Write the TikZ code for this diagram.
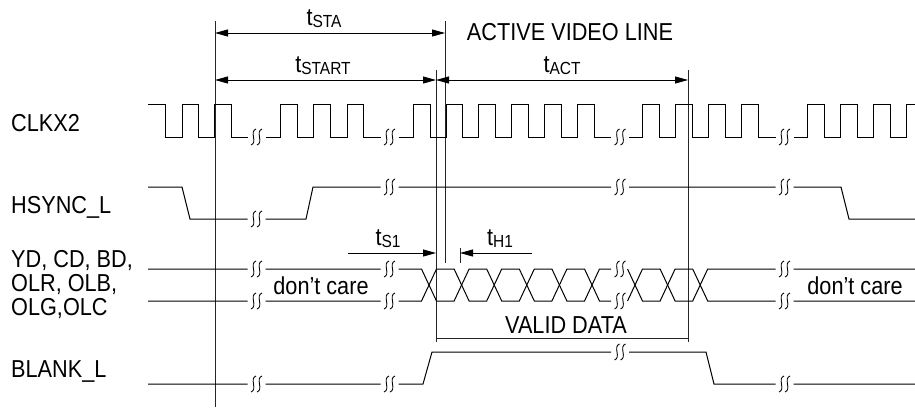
\documentclass[tikz,border=0pt]{standalone}
\usepackage{fontspec}
\setmainfont{Liberation Sans}[FakeStretch=0.885]
\usetikzlibrary{arrows.meta}
\newcommand\tbrk[2]{%
  \draw[brkline] ({#1-0.5},{#2-8}) .. controls ({#1-7.5},{#2-5.5}) and ({#1+1.5},{#2+5.5}) .. ({#1-5.5},{#2+8});
  \draw[brkline] ({#1+5.5},{#2-8}) .. controls ({#1-1.5},{#2-5.5}) and ({#1+7.5},{#2+5.5}) .. ({#1+0.5},{#2+8});
}
\newcommand\subs[1]{\raisebox{-2.5pt}{\fontsize{17.5}{18}\selectfont #1}}
\newcommand\sq{\symbol{"0027}}
\begin{document}
\begin{tikzpicture}[x=1pt,y=-1pt,
  sig/.style={line width=1pt,line join=miter},
  brkline/.style={line width=0.9pt},
  vline/.style={line width=0.7pt,black!85},
  dim/.style={line width=0.8pt,{Triangle[length=13pt,width=7pt]}-{Triangle[length=13pt,width=7pt]}},
  dimr/.style={line width=0.8pt,-{Triangle[length=13pt,width=7pt]}},
  lbl/.style={inner sep=0pt,font=\fontsize{24.5}{25}\selectfont},
]
\useasboundingbox (0,0) rectangle (915,408);

% ---------- coordinates of reference lines
\coordinate (Lt) at (215,21);  \coordinate (Lb) at (215,407);
\coordinate (Mt) at (445,21);  \coordinate (Mb) at (445,263);
\coordinate (Kt) at (436,70);  \coordinate (Kb) at (436,342);
\coordinate (Rt) at (688,70);  \coordinate (Rb) at (688,342);
\coordinate (Ht) at (460,248); \coordinate (Hb) at (460,263);
\coordinate (VDl) at (436,338); \coordinate (VDr) at (688,338);

\draw[vline] (Lt) -- (Lb);
\draw[vline] (Mt) -- (Mb);
\draw[vline] (Kt) -- (Kb);
\draw[vline] (Rt) -- (Rb);
\draw[vline] (Ht) -- (Hb);
\draw[vline] (VDl) -- (VDr);

% ---------- dimension arrows
\coordinate (staL) at (215,33); \coordinate (staR) at (445,33);
\coordinate (stL) at (215,80);  \coordinate (stR) at (436,80);
\coordinate (actR) at (688,80);
\coordinate (s1L) at (348,253); \coordinate (s1R) at (436,253);
\coordinate (h1R) at (532,253); \coordinate (h1L) at (460,253);
\draw[dim] (staL) -- (staR);
\draw[dim] (stL) -- (stR);
\draw[dim] (stR) -- (actR);
\draw[dimr] (s1L) -- (s1R);
\draw[dimr] (h1R) -- (h1L);

% ---------- labels
\node[lbl,anchor=base] (tsta) at (324,25) {t\subs{STA}};
\node[lbl,anchor=base] (tstart) at (323,72) {t\subs{START}};
\node[lbl,anchor=base] (avl) at (570,40) {ACTIVE VIDEO LINE};
\node[lbl,anchor=base] (tact) at (562,72) {t\subs{ACT}};
\node[lbl,anchor=base] (ts1) at (388,245) {t\subs{S1}};
\node[lbl,anchor=base] (th1) at (500,245) {t\subs{H1}};
\node[lbl,anchor=base] (dc1) at (321,294) {don\sq t care};
\node[lbl,anchor=base] (dc2) at (855,294) {don\sq t care};
\node[lbl,anchor=base] (vd) at (566,333) {VALID DATA};

\node[lbl,anchor=base west] (nclk) at (11,131) {CLKX2};
\node[lbl,anchor=base west] (nhs) at (11,213) {HSYNC\_L};
\node[lbl,anchor=base west] (nd1) at (11,267) {YD, CD, BD,};
\node[lbl,anchor=base west] (nd2) at (11,291) {OLR, OLB,};
\node[lbl,anchor=base west] (nd3) at (11,315) {OLG,OLC};
\node[lbl,anchor=base west] (nbl) at (11,377) {BLANK\_L};

% ---------- CLKX2
\draw[sig] (148,104) -- (165,104) -- (165,137) -- (182,137) -- (182,104) -- (198,104) -- (198,137) -- (214,137) -- (214,104) -- (231,104) -- (231,137) -- (247.5,137)
  (265.5,137) -- (280,137) -- (280,104) -- (297,104) -- (297,137) -- (313,137) -- (313,104) -- (330,104) -- (330,137) -- (347,137) -- (347,104) -- (363,104) -- (363,137) -- (380.5,137)
  (398.5,137) -- (413,137) -- (413,104) -- (430,104) -- (430,137) -- (446,137) -- (446,104) -- (462,104) -- (462,137) -- (478,137) -- (478,104) -- (495,104) -- (495,137) -- (511,137) -- (511,104) -- (528,104) -- (528,137) -- (544,137) -- (544,104) -- (561,104) -- (561,137) -- (577,137) -- (577,104) -- (594,104) -- (594,137) -- (611,137)
  (629,137) -- (642,137) -- (642,104) -- (659,104) -- (659,137) -- (675,137) -- (675,104) -- (692,104) -- (692,137) -- (708,137) -- (708,104) -- (725,104) -- (725,137) -- (741,137) -- (741,104) -- (758,104) -- (758,137) -- (775.5,137)
  (793.5,137) -- (807,137) -- (807,104) -- (824,104) -- (824,137) -- (840,137) -- (840,104) -- (857,104) -- (857,137) -- (873,137) -- (873,104) -- (890,104) -- (890,137) -- (906,137) -- (906,104) -- (915,104);
\tbrk{256.5}{137} \tbrk{389.5}{137} \tbrk{620}{137} \tbrk{784.5}{137}

% ---------- HSYNC_L
\draw[sig] (148,187) -- (182,187) -- (190,219) -- (247.5,219)
  (265.5,219) -- (306,219) -- (313,187) -- (380.5,187)
  (398.5,187) -- (611,187) (629,187) -- (775.5,187)
  (793.5,187) -- (841,187) -- (849,219) -- (915,219);
\tbrk{256.5}{219} \tbrk{389.5}{187} \tbrk{620}{187} \tbrk{784.5}{187}

% ---------- data bus
\draw[sig] (148,269) -- (247.5,269) (265.5,269) -- (380.5,269) (398.5,269) -- (421.5,269)
  -- (436.5,301) -- (454.1,301) -- (469.1,269) -- (486.7,269) -- (501.7,301) -- (519.3,301) -- (534.3,269) -- (551.9,269) -- (566.9,301) -- (584.5,301) -- (599.5,269) -- (611,269)
  (627.5,269) -- (642.5,301) -- (660.1,301) -- (675.1,269) -- (692.7,269) -- (707.7,301) -- (775.5,301)
  (793.5,301) -- (915,301);
\draw[sig] (148,301) -- (247.5,301) (265.5,301) -- (380.5,301) (398.5,301) -- (421.5,301)
  -- (436.5,269) -- (454.1,269) -- (469.1,301) -- (486.7,301) -- (501.7,269) -- (519.3,269) -- (534.3,301) -- (551.9,301) -- (566.9,269) -- (584.5,269) -- (599.5,301) -- (611,301)
  (627.5,301) -- (642.5,269) -- (660.1,269) -- (675.1,301) -- (692.7,301) -- (707.7,269) -- (775.5,269)
  (793.5,269) -- (915,269);
\foreach \b in {256.5,389.5,620,784.5} {\tbrk{\b}{269} \tbrk{\b}{301}}

% ---------- BLANK_L
\draw[sig] (148,384) -- (247.5,384) (265.5,384) -- (380.5,384) (398.5,384) -- (423,384) -- (432,352) -- (611,352)
  (629,352) -- (706,352) -- (714,384) -- (775.5,384) (793.5,384) -- (915,384);
\tbrk{256.5}{384} \tbrk{389.5}{384} \tbrk{620}{352} \tbrk{784.5}{384}
\end{tikzpicture}
\end{document}
